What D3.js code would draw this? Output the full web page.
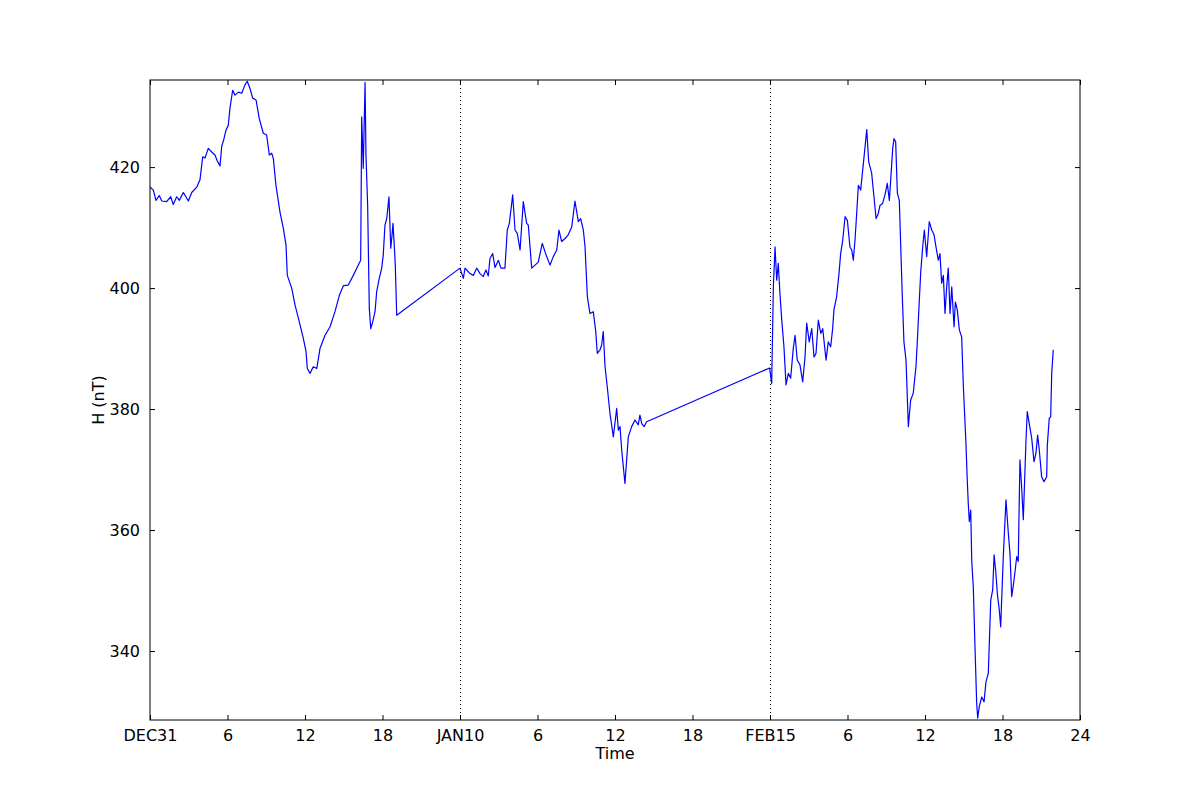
<!DOCTYPE html>
<html><head><meta charset="utf-8">
<script src="https://cdn.jsdelivr.net/npm/d3@7"></script>
<style>body{margin:0;background:#fff;} text{font-family:"DejaVu Sans",sans-serif;}</style>
</head><body><svg id="chart" width="1200" height="800"></svg>
<script>
const hours = [0,0.26,0.46,0.72,0.91,1.29,1.60,1.80,2.07,2.27,2.58,2.97,3.23,3.62,3.87,4.08,4.26,4.51,4.78,5.03,5.21,5.42,5.55,5.73,5.88,6.06,6.19,6.40,6.58,6.84,7.10,7.35,7.53,7.74,7.95,8.21,8.46,8.77,9.03,9.24,9.42,9.55,9.75,10.06,10.32,10.53,10.63,10.97,11.23,11.56,11.87,12.08,12.18,12.39,12.64,12.91,13.16,13.55,13.94,14.32,14.66,14.97,15.35,15.74,16.13,16.31,16.39,16.51,16.65,16.72,16.85,16.98,17.09,17.24,17.42,17.55,17.75,17.94,18.06,18.19,18.33,18.50,18.64,18.74,18.81,18.91,18.99,19.10,
24.0,24.26,24.39,24.77,25.03,25.29,25.55,25.80,26.01,26.19,26.32,26.53,26.71,26.97,27.17,27.48,27.66,27.82,28.08,28.26,28.44,28.65,28.90,29.16,29.29,29.55,29.81,30.06,30.37,30.66,30.97,31.22,31.49,31.66,31.87,32.13,32.38,32.65,32.90,33.16,33.34,33.55,33.68,33.86,34.06,34.32,34.51,34.63,34.84,34.97,35.09,35.23,35.40,35.61,35.87,36.13,36.26,36.39,36.52,36.77,37.03,37.29,37.55,37.80,37.93,38.07,38.25,38.45,
47.97,48.13,48.26,48.39,48.52,48.64,48.77,48.91,49.08,49.24,49.42,49.60,49.80,49.94,50.11,50.32,50.53,50.71,50.84,51.04,51.23,51.41,51.56,51.74,51.93,52.08,52.34,52.51,52.70,52.85,52.95,53.16,53.34,53.47,53.63,53.81,53.99,54.19,54.33,54.45,54.58,54.71,54.84,55.02,55.28,55.49,55.64,55.87,56.05,56.21,56.38,56.52,56.72,56.90,57.08,57.24,57.35,57.50,57.60,57.73,57.86,58.01,58.24,58.37,58.53,58.71,58.89,59.09,59.30,59.40,59.56,59.67,59.82,59.95,60.13,60.33,60.52,60.70,60.85,61.03,61.16,61.29,61.42,61.55,61.68,61.80,61.94,62.07,62.25,62.35,62.50,62.66,62.84,62.97,63.17,63.27,63.35,63.43,63.54,63.62,63.74,63.87,64.00,64.08,64.20,64.39,64.57,64.72,64.90,65.09,65.24,65.35,65.48,65.60,65.75,65.86,66.06,66.27,66.45,66.58,66.71,66.84,66.97,67.10,67.22,67.35,67.48,67.61,67.82,67.92,68.07,68.26,68.44,68.59,68.72,68.85,69.03,69.21,69.42,69.47,69.62,69.73,69.81,69.93];
const hValues = [416.7,416.2,414.5,415.3,414.4,414.3,415.1,413.8,415.1,414.5,415.8,414.4,415.8,416.7,417.9,421.7,421.5,423.1,422.5,422.0,421.0,420.2,423.4,424.7,426.1,426.9,429.7,432.7,431.9,432.4,432.2,433.6,434.2,433.0,431.4,431.1,428.0,425.6,425.3,422.0,422.3,421.4,417.0,412.6,409.9,407.1,402.1,400.0,397.2,394.4,391.7,389.5,386.7,385.9,387.0,386.7,390.0,392.2,393.6,396.1,398.8,400.4,400.5,402.1,403.8,404.6,428.3,419.8,434.0,422.0,413.7,396.6,393.3,394.4,396.1,399.4,401.6,403.3,405.5,410.4,411.5,415.1,406.6,408.8,410.7,407.1,403.8,395.5,
403.3,401.6,403.3,402.4,402.1,403.3,402.4,401.9,403.0,402.0,404.9,405.7,403.4,404.6,403.3,403.3,409.6,410.7,415.4,409.6,409.0,406.3,414.3,410.7,410.4,403.3,403.8,404.3,407.4,405.5,403.8,405.2,406.3,409.6,407.7,408.2,408.8,410.1,414.4,411.0,411.5,409.6,406.8,398.6,395.8,396.1,392.8,389.2,389.8,390.6,392.8,387.0,383.7,379.3,375.4,380.1,376.5,377.1,373.2,367.7,375.4,377.1,378.2,377.4,379.0,377.6,377.1,377.9,
386.8,384.2,400.2,406.8,401.3,404.1,399.1,394.7,390.3,384.0,385.9,385.1,390.0,392.2,388.1,387.3,384.5,388.6,394.2,391.1,393.3,388.6,389.2,394.7,392.5,393.3,388.1,391.1,390.3,393.3,396.4,398.6,402.4,405.7,407.9,411.8,411.2,406.8,406.3,404.6,407.9,412.3,417.0,416.2,421.7,426.2,420.9,419.0,415.1,411.5,412.3,413.7,414.0,415.4,417.3,414.5,418.1,423.1,424.7,424.2,415.7,414.5,398.8,391.1,388.1,377.1,381.5,382.6,387.0,390.9,398.0,402.7,406.8,409.6,405.2,411.0,409.6,408.8,406.8,404.6,405.7,400.8,402.1,395.8,400.2,403.3,395.8,400.2,393.6,397.7,396.4,393.1,391.9,383.7,374.4,368.3,364.4,361.4,363.3,354.8,350.6,340.7,331.4,328.9,330.8,332.4,331.6,334.9,336.3,348.4,350.1,355.9,353.1,349.5,346.8,344.0,355.6,365.0,359.5,356.1,349.0,350.9,353.1,355.6,354.8,371.6,367.2,361.7,374.9,379.6,377.6,375.2,371.3,372.7,375.7,373.2,368.8,368.0,368.8,374.0,378.5,378.7,385.9,389.8];
const xTickHours = [0,6,12,18,24,30,36,42,48,54,60,66,72];
const xTickLabels = ["DEC31","6","12","18","JAN10","6","12","18","FEB15","6","12","18","24"];
const yTicks = [340,360,380,400,420];
const dayBoundaries = [24,48];
const xDomain = [0,72];
const yDomain = [328.6,434.4];

const svg = d3.select("#chart");
const L=150,R=1080,T=80,B=720;
const x = d3.scaleLinear().domain(xDomain).range([L,R]);
const y = d3.scaleLinear().domain(yDomain).range([B,T]);

svg.append("defs").append("clipPath").attr("id","clip").append("rect")
  .attr("x",L).attr("y",T).attr("width",R-L).attr("height",B-T);

svg.selectAll(".vb").data(dayBoundaries).enter().append("line")
  .attr("x1",d=>x(d)+0.5).attr("x2",d=>x(d)+0.5).attr("y1",T).attr("y2",B)
  .attr("stroke","#000").attr("stroke-width",1).attr("stroke-dasharray","1,3");

const pts = hours.map((h,i)=>[h,hValues[i]]);
svg.append("path").datum(pts).attr("clip-path","url(#clip)")
  .attr("fill","none").attr("stroke","#0000ff").attr("stroke-width",1.2)
  .attr("stroke-linejoin","round")
  .attr("d", d3.line().x(d=>x(d[0])).y(d=>y(d[1])));

const fmtX = d=>xTickLabels[xTickHours.indexOf(d)];
const gBottom = svg.append("g").attr("transform",`translate(0,${B})`)
  .call(d3.axisBottom(x).tickValues(xTickHours).tickFormat(fmtX).tickSizeInner(-5).tickSizeOuter(0).tickPadding(10));
const gTop = svg.append("g").attr("transform",`translate(0,${T})`)
  .call(d3.axisTop(x).tickValues(xTickHours).tickFormat("").tickSizeInner(-5).tickSizeOuter(0));
const gLeft = svg.append("g").attr("transform",`translate(${L},0)`)
  .call(d3.axisLeft(y).tickValues(yTicks).tickFormat(d3.format("d")).tickSizeInner(-5).tickSizeOuter(0).tickPadding(10));
const gRight = svg.append("g").attr("transform",`translate(${R},0)`)
  .call(d3.axisRight(y).tickValues(yTicks).tickFormat("").tickSizeInner(-5).tickSizeOuter(0));
[gBottom,gTop,gLeft,gRight].forEach(g=>{
  g.select(".domain").remove();
  g.selectAll("text").attr("font-size",16).attr("fill","#000").attr("font-family","DejaVu Sans");
  g.selectAll("line").attr("stroke","#000");
});

svg.append("rect").attr("x",L).attr("y",T).attr("width",R-L).attr("height",B-T)
  .attr("fill","none").attr("stroke","#000").attr("stroke-width",1);

svg.append("text").attr("x",(L+R)/2).attr("y",759).attr("text-anchor","middle")
  .attr("font-size",16).text("Time");
svg.append("text").attr("transform",`translate(104,${(T+B)/2}) rotate(-90)`)
  .attr("text-anchor","middle").attr("font-size",16).text("H (nT)");
</script></body></html>
